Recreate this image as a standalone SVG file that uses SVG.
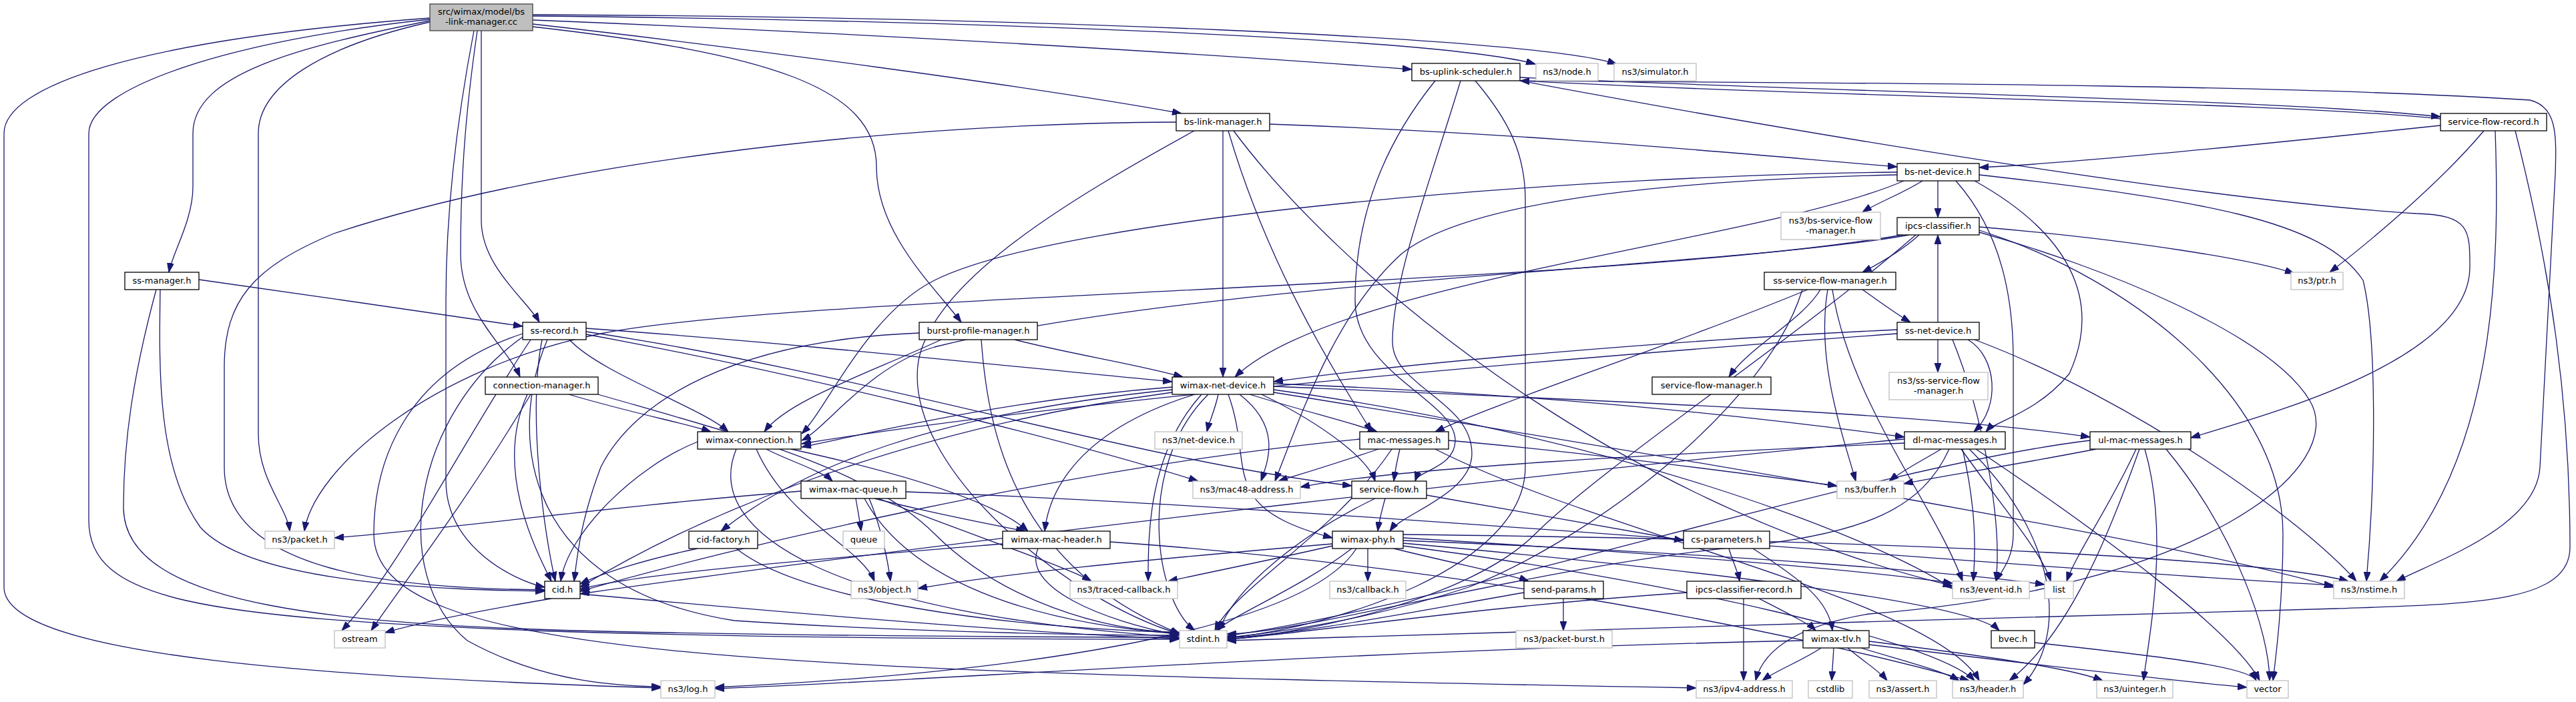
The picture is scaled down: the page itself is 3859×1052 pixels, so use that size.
<svg xmlns="http://www.w3.org/2000/svg" width="3859" height="1052" viewBox="0 0 3859 1052">
<defs>
<marker id="a" viewBox="0 0 14 10" refX="14" refY="5" markerWidth="14" markerHeight="10" markerUnits="userSpaceOnUse" orient="auto"><path d="M0,0 L14,5 L0,10 z" fill="#191970" stroke="#191970" stroke-width="1"/></marker>
</defs>
<style>
.e path{fill:none;stroke:#191970;stroke-width:1.3;marker-end:url(#a)}
.n rect{fill:#ffffff;stroke:#000000;stroke-width:1.3}
.x rect{fill:#ffffff;stroke:#bfbfbf;stroke-width:1.3}
.m rect{fill:#bfbfbf;stroke:#404040;stroke-width:1.3}
text{font-family:"DejaVu Sans","Liberation Sans",sans-serif;font-size:13px;text-anchor:middle;fill:#000000}
</style>
<rect width="3859" height="1052" fill="#ffffff"/>
<g id="edges" class="e">
<path d="M798,24 C1400,30 2150,55 2300,96"/>
<path d="M798,22 C1500,25 2300,55 2422,96"/>
<path d="M798,30 C1300,50 1800,80 2115,104"/>
<path d="M798,36 C1100,70 1550,130 1770,170"/>
<path d="M798,40 C1150,80 1313,130 1313,250 C1313,350 1400,430 1440,483"/>
<path d="M644,31 C450,70 289,110 289,200 L289,280 C289,330 258,380 253,408"/>
<path d="M644,33 C480,70 387,130 387,200 L387,650 C387,720 430,760 434,796"/>
<path d="M644,29 C350,60 133,130 133,200 L133,780 C133,900 300,925 800,945 C1200,958 1600,958 1766,958"/>
<path d="M644,27 C200,60 6,130 6,200 L6,880 C6,985 500,1015 990,1031"/>
<path d="M710,46 C690,150 668,300 668,450 L668,720 C668,820 770,870 816,880"/>
<path d="M721,46 L721,330 C721,400 790,450 808,483"/>
<path d="M715,46 C700,150 690,250 690,380 C690,470 760,520 779,565"/>
<path d="M2277,116 C2800,140 3400,148 3656,175"/>
<path d="M2277,121 C2700,200 3300,300 3620,320 C3700,322 3700,345 3700,400 C3700,540 3400,620 3282,656"/>
<path d="M2277,121 C2600,124 3400,124 3790,150 C3830,160 3830,200 3828,260 L3805,700 C3800,790 3650,840 3590,871"/>
<path d="M2150,121 C2070,220 2030,330 2030,450 C2030,560 2180,600 2180,660 C2180,700 2125,705 2120,721"/>
<path d="M2188,121 C2140,280 2086,420 2086,512 C2086,580 2205,600 2205,680 C2205,740 2100,770 2082,796"/>
<path d="M2210,121 C2260,180 2285,230 2285,300 L2285,700 C2285,850 2000,940 1838,956"/>
<path d="M1902,186 C2300,200 2600,230 2842,250"/>
<path d="M1832,196 L1832,565"/>
<path d="M1840,196 C1900,400 2000,560 2055,647"/>
<path d="M1848,196 C2000,400 2400,750 2925,878"/>
<path d="M1762,183 C1300,185 800,250 500,350 C380,400 336,450 336,550 L336,700 C336,860 600,882 816,884"/>
<path d="M1789,196 C1600,300 1400,420 1376,540 C1350,700 1600,900 1767,950"/>
<path d="M3656,178 C3400,152 2800,148 2277,121"/>
<path d="M3656,188 C3400,215 3100,245 2965,251"/>
<path d="M3721,196 C3650,280 3540,370 3490,408"/>
<path d="M3738,196 C3745,400 3740,700 3565,871"/>
<path d="M3768,196 C3820,400 3850,600 3850,820 C3850,905 3700,905 3500,912 C3000,925 2200,950 1838,960"/>
<path d="M2880,271 C2850,290 2810,305 2790,318"/>
<path d="M2903,271 L2903,326"/>
<path d="M2852,271 C2650,360 2000,420 1850,565"/>
<path d="M2842,258 C2400,262 1600,320 1400,420 C1300,470 1240,610 1201,650"/>
<path d="M2842,262 C2500,270 2200,300 2100,380 C2000,470 1950,620 1910,721"/>
<path d="M2930,271 C3000,350 3016,450 3016,540 L3016,800 C3016,840 2995,860 2990,871"/>
<path d="M2958,271 C3100,350 3150,450 3100,560 C3050,620 2990,630 2975,647"/>
<path d="M2965,262 C3300,300 3480,330 3540,420 C3560,500 3560,700 3545,871"/>
<path d="M2875,352 C2850,375 2815,395 2790,408"/>
<path d="M2965,340 C3200,360 3380,390 3437,410"/>
<path d="M2860,352 C2600,400 1800,420 1400,520 C1300,550 1240,640 1201,660"/>
<path d="M2850,352 C2400,430 1200,440 900,500 C650,550 470,700 456,796"/>
<path d="M2965,348 C3150,400 3400,500 3460,600 C3520,700 3300,880 2800,920 C2680,940 2640,980 2630,1020"/>
<path d="M2965,345 C3200,420 3420,600 3420,800 C3420,900 3410,980 3405,1020"/>
<path d="M2870,352 C2700,500 2400,700 2300,800 C2200,900 1950,950 1838,958"/>
<path d="M298,419 C450,440 650,470 783,489"/>
<path d="M240,434 C238,560 236,700 300,790 C380,880 700,884 816,886"/>
<path d="M234,434 C200,560 185,660 185,760 C185,910 500,940 1000,948 C1400,955 1700,955 1767,955"/>
<path d="M2790,434 C2820,455 2840,470 2862,483"/>
<path d="M2727,434 C2700,480 2620,520 2590,565"/>
<path d="M2708,434 C2500,520 2250,600 2150,647"/>
<path d="M2738,434 C2720,540 2760,650 2780,721"/>
<path d="M2745,434 C2770,600 2900,760 2940,871"/>
<path d="M2700,434 C2650,600 2400,800 2200,880 C2050,930 1900,950 1838,955"/>
<path d="M878,492 C1200,515 1500,548 1756,572"/>
<path d="M853,509 C900,560 1050,610 1091,647"/>
<path d="M878,497 C1300,560 1700,690 2025,728"/>
<path d="M878,501 C1200,560 1600,660 1795,721"/>
<path d="M812,509 C790,620 815,800 832,871"/>
<path d="M820,509 C760,650 780,880 1100,930 C1400,950 1700,952 1767,952"/>
<path d="M783,500 C600,560 560,700 560,800 C560,985 1100,1005 2541,1031"/>
<path d="M783,505 C620,620 580,860 700,960 C800,1015 900,1028 990,1029"/>
<path d="M795,509 C700,650 600,850 512,945"/>
<path d="M1520,509 C1600,530 1700,545 1772,565"/>
<path d="M1410,509 C1300,560 1180,600 1145,647"/>
<path d="M1377,499 C1100,510 950,600 900,700 C870,780 865,830 860,871"/>
<path d="M1470,509 C1480,650 1520,850 1768,950"/>
<path d="M2903,483 L2903,352"/>
<path d="M2903,509 L2903,558"/>
<path d="M2842,494 C2500,510 2100,545 1908,572"/>
<path d="M2842,500 C2300,540 1600,600 1201,665"/>
<path d="M2948,509 C2992,535 2997,610 2957,647"/>
<path d="M2925,509 C2970,620 3000,780 2990,871"/>
<path d="M2958,509 C3200,600 3450,780 3530,871"/>
<path d="M852,591 C950,620 1030,635 1065,647"/>
<path d="M790,591 C740,700 800,820 826,871"/>
<path d="M795,591 C700,750 600,880 556,945"/>
<path d="M896,591 C1100,650 1300,700 1400,800 C1500,900 1650,945 1767,948"/>
<path d="M1825,591 C1820,615 1812,630 1808,647"/>
<path d="M1857,591 C1920,640 1900,690 1889,721"/>
<path d="M1872,591 C1950,615 2030,635 2063,647"/>
<path d="M1756,580 C1500,600 1300,650 1201,670"/>
<path d="M1756,584 C1400,620 1200,700 1080,796"/>
<path d="M1790,591 C1600,650 1570,750 1565,796"/>
<path d="M1756,588 C1300,650 1000,800 869,880"/>
<path d="M1800,591 C1720,680 1720,800 1720,871"/>
<path d="M1840,591 C1880,700 1820,760 1996,806"/>
<path d="M1810,591 C1700,700 1730,900 1790,945"/>
<path d="M1908,575 C2300,590 2600,620 2853,655"/>
<path d="M1908,579 C2400,600 2900,620 3131,655"/>
<path d="M1908,584 C2400,650 2800,800 2925,882"/>
<path d="M1908,588 C2600,700 3300,820 3496,880"/>
<path d="M1890,591 C1990,640 2050,690 2060,721"/>
<path d="M1045,662 C950,700 850,800 840,871"/>
<path d="M1133,673 C1180,780 1290,820 1310,871"/>
<path d="M1148,673 C1180,690 1230,705 1247,721"/>
<path d="M1185,673 C1400,720 1500,760 1540,796"/>
<path d="M1103,673 C1050,800 1250,920 1767,955"/>
<path d="M2065,673 C2000,695 1950,710 1915,721"/>
<path d="M2097,673 C2093,690 2090,705 2088,721"/>
<path d="M2085,673 C2000,800 1850,880 1820,945"/>
<path d="M2037,658 C1600,700 1100,820 869,886"/>
<path d="M2150,673 C2400,800 2900,900 2965,1020"/>
<path d="M2170,660 C2400,680 2650,715 2752,728"/>
<path d="M2908,673 C2880,690 2850,705 2830,721"/>
<path d="M2940,673 C2960,760 2960,820 2956,871"/>
<path d="M2938,673 C3000,760 3060,830 3072,871"/>
<path d="M2950,673 C3080,800 3100,950 3031,1026"/>
<path d="M2960,673 C3150,800 3350,950 3385,1020"/>
<path d="M2853,658 C2400,700 1500,800 869,890"/>
<path d="M2920,673 C2880,760 2800,800 2600,820 C2300,850 1950,950 1838,950"/>
<path d="M2853,664 C2500,680 2100,700 1948,730"/>
<path d="M3140,673 C3000,700 2900,715 2852,725"/>
<path d="M3200,673 C3160,760 3110,830 3096,871"/>
<path d="M3205,673 C3160,800 3100,950 3010,1020"/>
<path d="M3213,673 C3250,800 3220,950 3211,1020"/>
<path d="M3245,673 C3350,800 3400,950 3400,1020"/>
<path d="M3131,660 C2800,700 2200,900 1838,953"/>
<path d="M1200,736 C900,760 700,790 501,806"/>
<path d="M1282,747 C1285,765 1288,780 1290,796"/>
<path d="M1302,747 C1320,790 1330,840 1334,871"/>
<path d="M1310,747 C1400,770 1480,785 1536,796"/>
<path d="M1316,747 C1450,800 1600,850 1635,871"/>
<path d="M1357,737 C2000,760 3000,850 3496,877"/>
<path d="M1295,747 C1350,850 1500,930 1767,950"/>
<path d="M2137,742 C2300,770 2460,800 2522,810"/>
<path d="M2075,747 C2070,765 2066,780 2064,796"/>
<path d="M2060,747 C1950,800 1850,880 1826,945"/>
<path d="M1045,822 C960,840 900,860 869,875"/>
<path d="M1103,822 C1200,900 1500,940 1767,948"/>
<path d="M1502,815 C1200,840 950,860 869,883"/>
<path d="M1663,812 C2200,850 2700,950 2950,1020"/>
<path d="M1555,822 C1530,880 1650,930 1767,952"/>
<path d="M1996,815 C1700,840 1500,860 1375,882"/>
<path d="M1996,818 C1900,840 1800,860 1750,871"/>
<path d="M2049,822 L2049,871"/>
<path d="M2088,822 C2180,845 2260,860 2290,871"/>
<path d="M2025,822 C1950,880 1850,920 1822,945"/>
<path d="M2032,822 C1950,950 1500,1010 1071,1030"/>
<path d="M2102,806 C2500,830 2800,855 2925,874"/>
<path d="M2102,810 C2600,830 2950,860 3063,876"/>
<path d="M2102,801 C2900,810 3400,840 3518,871"/>
<path d="M2102,814 C2500,850 2950,900 2995,945"/>
<path d="M2102,818 C2500,870 2900,960 2958,1020"/>
<path d="M2590,822 C2595,840 2603,855 2606,871"/>
<path d="M2626,822 C2700,870 2740,900 2745,945"/>
<path d="M2342,897 L2342,945"/>
<path d="M2283,888 C2100,920 1950,950 1838,956"/>
<path d="M2612,897 L2612,1020"/>
<path d="M2635,897 C2680,920 2710,935 2720,945"/>
<path d="M2527,888 C2200,910 1950,950 1838,958"/>
<path d="M2701,960 C2000,975 1400,1020 1071,1032"/>
<path d="M2728,971 C2700,990 2660,1005 2640,1020"/>
<path d="M2747,971 L2744,1020"/>
<path d="M2768,971 C2790,990 2815,1005 2827,1020"/>
<path d="M2788,971 C2850,990 2910,1005 2935,1020"/>
<path d="M2800,961 C2950,980 3100,1000 3150,1020"/>
<path d="M2800,966 C3000,990 3250,1020 3366,1030"/>
<path d="M3048,963 C3250,985 3370,1000 3380,1020"/>
<path d="M826,897 C720,915 620,935 577,948"/>
<path d="M869,890 C1200,920 1550,950 1767,957"/>
</g>
<g id="main" class="m"><rect x="644" y="6" width="154" height="40"/><text x="721" y="22">src/wimax/model/bs</text><text x="721" y="37">-link-manager.cc</text></g>
<g id="bs-uplink-scheduler" class="n"><rect x="2115" y="95" width="162" height="26"/><text x="2196" y="112">bs-uplink-scheduler.h</text></g>
<g id="ns3-node" class="x"><rect x="2301" y="95" width="93" height="26"/><text x="2347.5" y="112">ns3/node.h</text></g>
<g id="ns3-simulator" class="x"><rect x="2418" y="95" width="123" height="26"/><text x="2479.5" y="112">ns3/simulator.h</text></g>
<g id="bs-link-manager" class="n"><rect x="1762" y="170" width="140" height="26"/><text x="1832" y="187">bs-link-manager.h</text></g>
<g id="service-flow-record" class="n"><rect x="3656" y="170" width="159" height="26"/><text x="3735.5" y="187">service-flow-record.h</text></g>
<g id="bs-net-device" class="n"><rect x="2842" y="245" width="123" height="26"/><text x="2903.5" y="262">bs-net-device.h</text></g>
<g id="ns3-bs-service-flow-manager" class="x"><rect x="2668" y="318" width="149" height="41"/><text x="2742.5" y="334.5">ns3/bs-service-flow</text><text x="2742.5" y="349.5">-manager.h</text></g>
<g id="ipcs-classifier" class="n"><rect x="2842" y="326" width="123" height="26"/><text x="2903.5" y="343">ipcs-classifier.h</text></g>
<g id="ss-manager" class="n"><rect x="187" y="408" width="111" height="26"/><text x="242.5" y="425">ss-manager.h</text></g>
<g id="ss-service-flow-manager" class="n"><rect x="2643" y="408" width="197" height="26"/><text x="2741.5" y="425">ss-service-flow-manager.h</text></g>
<g id="ns3-ptr" class="x"><rect x="3432" y="408" width="78" height="26"/><text x="3471" y="425">ns3/ptr.h</text></g>
<g id="ss-record" class="n"><rect x="783" y="483" width="95" height="26"/><text x="830.5" y="500">ss-record.h</text></g>
<g id="burst-profile-manager" class="n"><rect x="1377" y="483" width="177" height="26"/><text x="1465.5" y="500">burst-profile-manager.h</text></g>
<g id="ss-net-device" class="n"><rect x="2842" y="483" width="123" height="26"/><text x="2903.5" y="500">ss-net-device.h</text></g>
<g id="connection-manager" class="n"><rect x="727" y="565" width="169" height="26"/><text x="811.5" y="582">connection-manager.h</text></g>
<g id="wimax-net-device" class="n"><rect x="1756" y="565" width="152" height="26"/><text x="1832" y="582">wimax-net-device.h</text></g>
<g id="service-flow-manager" class="n"><rect x="2475" y="565" width="178" height="26"/><text x="2564" y="582">service-flow-manager.h</text></g>
<g id="ns3-ss-service-flow-manager" class="x"><rect x="2830" y="558" width="148" height="41"/><text x="2904" y="574.5">ns3/ss-service-flow</text><text x="2904" y="589.5">-manager.h</text></g>
<g id="wimax-connection" class="n"><rect x="1045" y="647" width="155" height="26"/><text x="1122.5" y="664">wimax-connection.h</text></g>
<g id="ns3-net-device" class="x"><rect x="1730" y="647" width="131" height="26"/><text x="1795.5" y="664">ns3/net-device.h</text></g>
<g id="mac-messages" class="n"><rect x="2037" y="647" width="133" height="26"/><text x="2103.5" y="664">mac-messages.h</text></g>
<g id="dl-mac-messages" class="n"><rect x="2853" y="647" width="151" height="26"/><text x="2928.5" y="664">dl-mac-messages.h</text></g>
<g id="ul-mac-messages" class="n"><rect x="3131" y="647" width="151" height="26"/><text x="3206.5" y="664">ul-mac-messages.h</text></g>
<g id="wimax-mac-queue" class="n"><rect x="1200" y="721" width="157" height="26"/><text x="1278.5" y="738">wimax-mac-queue.h</text></g>
<g id="ns3-mac48-address" class="x"><rect x="1787" y="721" width="161" height="26"/><text x="1867.5" y="738">ns3/mac48-address.h</text></g>
<g id="service-flow" class="n"><rect x="2025" y="721" width="112" height="26"/><text x="2081" y="738">service-flow.h</text></g>
<g id="ns3-buffer" class="x"><rect x="2752" y="721" width="100" height="26"/><text x="2802" y="738">ns3/buffer.h</text></g>
<g id="ns3-packet" class="x"><rect x="397" y="796" width="104" height="26"/><text x="449" y="813">ns3/packet.h</text></g>
<g id="cid-factory" class="n"><rect x="1032" y="796" width="103" height="26"/><text x="1083.5" y="813">cid-factory.h</text></g>
<g id="queue" class="x"><rect x="1263" y="796" width="62" height="26"/><text x="1294" y="813">queue</text></g>
<g id="wimax-mac-header" class="n"><rect x="1502" y="796" width="161" height="26"/><text x="1582.5" y="813">wimax-mac-header.h</text></g>
<g id="wimax-phy" class="n"><rect x="1996" y="796" width="106" height="26"/><text x="2049" y="813">wimax-phy.h</text></g>
<g id="cs-parameters" class="n"><rect x="2522" y="796" width="129" height="26"/><text x="2586.5" y="813">cs-parameters.h</text></g>
<g id="cid" class="n"><rect x="816" y="871" width="53" height="26"/><text x="842.5" y="888">cid.h</text></g>
<g id="ns3-object" class="x"><rect x="1275" y="871" width="100" height="26"/><text x="1325" y="888">ns3/object.h</text></g>
<g id="ns3-traced-callback" class="x"><rect x="1603" y="871" width="161" height="26"/><text x="1683.5" y="888">ns3/traced-callback.h</text></g>
<g id="ns3-callback" class="x"><rect x="1992" y="871" width="114" height="26"/><text x="2049" y="888">ns3/callback.h</text></g>
<g id="send-params" class="n"><rect x="2283" y="871" width="119" height="26"/><text x="2342.5" y="888">send-params.h</text></g>
<g id="ipcs-classifier-record" class="n"><rect x="2527" y="871" width="171" height="26"/><text x="2612.5" y="888">ipcs-classifier-record.h</text></g>
<g id="ns3-event-id" class="x"><rect x="2925" y="871" width="115" height="26"/><text x="2982.5" y="888">ns3/event-id.h</text></g>
<g id="list" class="x"><rect x="3063" y="871" width="43" height="26"/><text x="3084.5" y="888">list</text></g>
<g id="ns3-nstime" class="x"><rect x="3496" y="871" width="106" height="26"/><text x="3549" y="888">ns3/nstime.h</text></g>
<g id="ostream" class="x"><rect x="501" y="945" width="76" height="26"/><text x="539" y="962">ostream</text></g>
<g id="stdint" class="x"><rect x="1767" y="945" width="71" height="26"/><text x="1802.5" y="962">stdint.h</text></g>
<g id="ns3-packet-burst" class="x"><rect x="2271" y="945" width="144" height="26"/><text x="2343" y="962">ns3/packet-burst.h</text></g>
<g id="wimax-tlv" class="n"><rect x="2701" y="945" width="99" height="26"/><text x="2750.5" y="962">wimax-tlv.h</text></g>
<g id="bvec" class="n"><rect x="2983" y="945" width="65" height="26"/><text x="3015.5" y="962">bvec.h</text></g>
<g id="ns3-log" class="x"><rect x="990" y="1020" width="81" height="26"/><text x="1030.5" y="1037">ns3/log.h</text></g>
<g id="ns3-ipv4-address" class="x"><rect x="2541" y="1020" width="144" height="26"/><text x="2613" y="1037">ns3/ipv4-address.h</text></g>
<g id="cstdlib" class="x"><rect x="2709" y="1020" width="66" height="26"/><text x="2742" y="1037">cstdlib</text></g>
<g id="ns3-assert" class="x"><rect x="2800" y="1020" width="101" height="26"/><text x="2850.5" y="1037">ns3/assert.h</text></g>
<g id="ns3-header" class="x"><rect x="2925" y="1020" width="106" height="26"/><text x="2978" y="1037">ns3/header.h</text></g>
<g id="ns3-uinteger" class="x"><rect x="3141" y="1020" width="114" height="26"/><text x="3198" y="1037">ns3/uinteger.h</text></g>
<g id="vector" class="x"><rect x="3366" y="1020" width="62" height="26"/><text x="3397" y="1037">vector</text></g>
</svg>
